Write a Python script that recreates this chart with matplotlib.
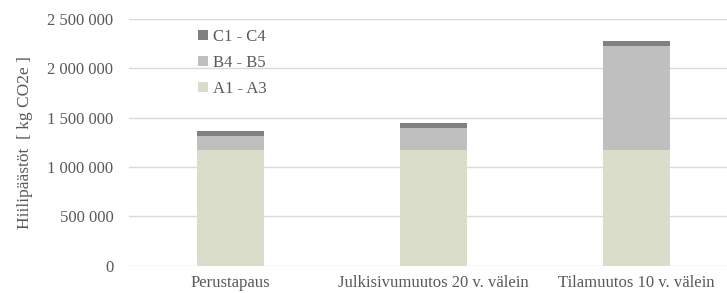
import matplotlib
matplotlib.use("Agg")
import matplotlib.pyplot as plt
from matplotlib.ticker import FuncFormatter, MultipleLocator

categories = ['Perustapaus', 'Julkisivumuutos 20 v. välein', 'Tilamuutos 10 v. välein']
a1_a3 = [1170000, 1170000, 1170000]
b4_b5 = [145000, 230000, 1058000]
c1_c4 = [48000, 47000, 48000]

col_a = '#DADDCA'
col_b = '#BFBFBF'
col_c = '#808080'
txt = '#595959'

plt.rcParams['font.family'] = ['Liberation Serif', 'DejaVu Serif']

fig = plt.figure(figsize=(7.27, 2.93), dpi=100)
ax = fig.add_axes([0.1768, 0.0932, 0.8232, 0.842])

x = range(len(categories))
w = 0.33
ax.bar(x, a1_a3, w, color=col_a, label='A1 - A3', zorder=3)
bot = [a + b for a, b in zip(a1_a3, b4_b5)]
ax.bar(x, b4_b5, w, bottom=a1_a3, color=col_b, label='B4 - B5', zorder=3)
ax.bar(x, c1_c4, w, bottom=bot, color=col_c, label='C1 - C4', zorder=3)

ax.set_xlim(-0.5, 2.448)
ax.set_ylim(0, 2500000)
ax.yaxis.set_major_locator(MultipleLocator(500000))
ax.yaxis.set_major_formatter(FuncFormatter(lambda v, p: f"{v:,.0f}".replace(",", " ")))
ax.grid(axis='y', color='#D9D9D9', lw=1, zorder=0)
ax.set_xticks(list(x))
ax.set_xticklabels(categories)
ax.tick_params(axis='both', length=0, colors=txt, labelsize=12)
ax.tick_params(axis='y', pad=11)
ax.tick_params(axis='x', pad=7)
for s in ax.spines.values():
    s.set_visible(False)

ax.set_ylabel('Hiilipäästöt  [ kg CO2e ]', color=txt, fontsize=12.5, labelpad=10)

h, l = ax.get_legend_handles_labels()
leg = ax.legend(h[::-1], l[::-1], loc='upper left', bbox_to_anchor=(190 / 727, 1 - 21 / 293),
                bbox_transform=fig.transFigure, frameon=False, fontsize=12,
                handlelength=0.55, handleheight=0.55, handletextpad=0.35,
                labelspacing=0.6, borderpad=0)
for t in leg.get_texts():
    t.set_color(txt)

fig.savefig('out.png', dpi=100)
